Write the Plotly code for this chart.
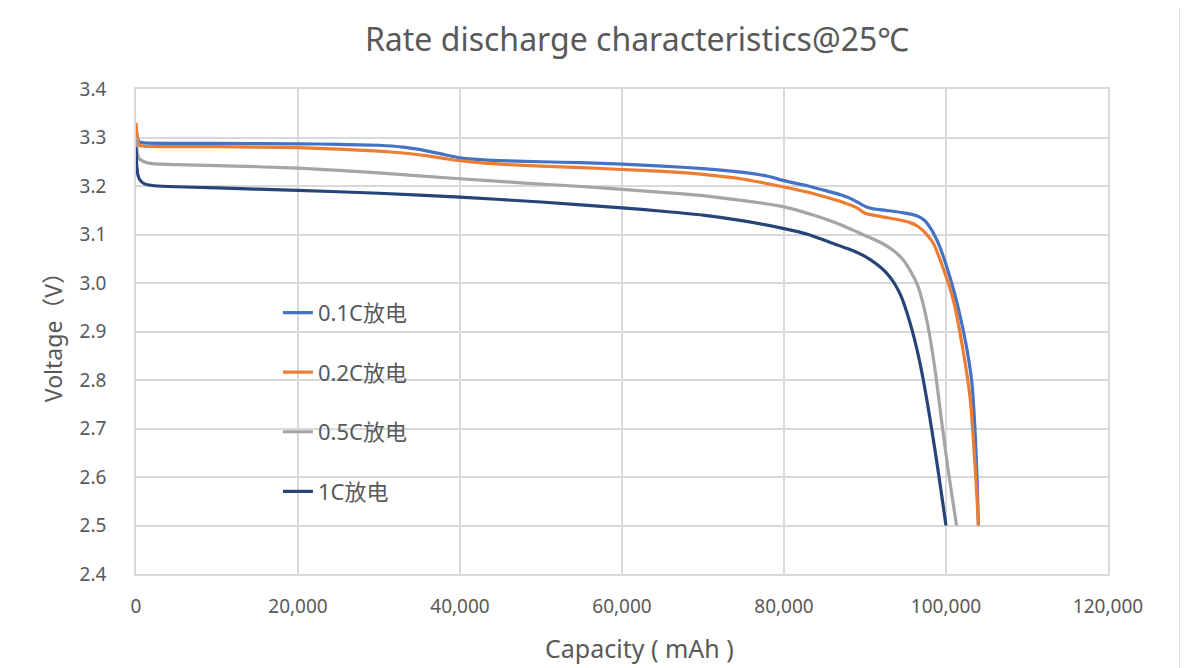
import plotly.graph_objects as go

# ---- data ----
names = ["0.1C放电", "0.2C放电", "0.5C放电", "1C放电"]
colors = ["#4472C4", "#ED7D31", "#A5A5A5", "#264478"]

cap_01 = [0, 150, 400, 1000, 5000, 10000, 20000, 25000, 30000, 33000, 36000, 38000, 40000,
          43000, 46000, 50000, 55000, 60000, 65000, 70000, 75000, 78000, 80000, 83000, 85000,
          87000, 88500, 90000, 91000, 93000, 95000, 96300, 97300, 98200, 99250, 100000, 101000,
          101700, 102600, 103200, 103600, 103850, 104000]
volt_01 = [3.32, 3.30, 3.291, 3.289, 3.288, 3.288, 3.287, 3.286, 3.284, 3.280, 3.272, 3.265, 3.258,
           3.254, 3.252, 3.250, 3.248, 3.245, 3.241, 3.236, 3.228, 3.220, 3.211, 3.200, 3.191,
           3.182, 3.172, 3.158, 3.153, 3.149, 3.144, 3.139, 3.130, 3.110, 3.074, 3.038, 2.982,
           2.935, 2.862, 2.794, 2.690, 2.590, 2.500]

cap_02 = [0, 150, 400, 1000, 5000, 10000, 20000, 25000, 30000, 33000, 36000, 38000, 40000,
          43000, 46000, 50000, 55000, 60000, 65000, 70000, 75000, 80000, 83000, 85000, 87000,
          89000, 90000, 92000, 94000, 95500, 96500, 97300, 98400, 99600, 100900, 102100,
          103000, 103600, 103850, 104000]
volt_02 = [3.33, 3.30, 3.284, 3.282, 3.281, 3.281, 3.279, 3.276, 3.272, 3.268, 3.262, 3.257, 3.252,
           3.247, 3.244, 3.241, 3.238, 3.234, 3.230, 3.224, 3.214, 3.198, 3.187, 3.178, 3.168,
           3.155, 3.144, 3.137, 3.131, 3.125, 3.117, 3.106, 3.083, 3.033, 2.965, 2.862,
           2.760, 2.620, 2.550, 2.500]

cap_05 = [0, 150, 400, 1000, 2000, 5000, 10000, 20000, 30000, 40000, 48000, 55000, 60000,
          65000, 70000, 75000, 80000, 84000, 87000, 90000, 92000, 93500, 94700, 95700, 96500,
          97200, 97900, 98700, 99500, 100300, 101300]
volt_05 = [3.30, 3.27, 3.256, 3.250, 3.246, 3.244, 3.242, 3.237, 3.227, 3.215, 3.206, 3.199, 3.193,
           3.187, 3.180, 3.170, 3.157, 3.138, 3.120, 3.098, 3.083, 3.067, 3.048, 3.022, 2.995,
           2.955, 2.900, 2.815, 2.710, 2.610, 2.500]

cap_1 = [0, 100, 250, 500, 1000, 2000, 4000, 10000, 20000, 30000, 40000, 50000, 60000, 65000,
         70000, 75000, 80000, 83000, 86000, 88000, 90000, 91500, 92700, 93600, 94400, 95100,
         95800, 96500, 97200, 97900, 98600, 99300, 100000]
volt_1 = [3.28, 3.24, 3.222, 3.212, 3.205, 3.201, 3.199, 3.196, 3.191, 3.185, 3.177, 3.167, 3.155,
          3.148, 3.140, 3.128, 3.112, 3.100, 3.082, 3.070, 3.055, 3.038, 3.020, 3.000, 2.975,
          2.943, 2.904, 2.857, 2.800, 2.733, 2.660, 2.582, 2.500]

x_ticks = [0, 20000, 40000, 60000, 80000, 100000, 120000]
y_ticks = [2.4, 2.5, 2.6, 2.7, 2.8, 2.9, 3.0, 3.1, 3.2, 3.3, 3.4]

title_text = "Rate discharge characteristics@25℃"
x_title = "Capacity ( mAh )"
y_title = "Voltage（V）"

series = [(cap_01, volt_01), (cap_02, volt_02), (cap_05, volt_05), (cap_1, volt_1)]

FONT = "Noto Sans, Noto Sans CJK SC, sans-serif"
TXT = "#595959"
GRID = "#D9D9D9"

fig = go.Figure()
for i, ((xs, ys), nm, col) in enumerate(zip(series, names, colors)):
    fig.add_trace(go.Scatter(
        x=xs, y=ys, name=nm, mode="lines",
        line=dict(color=col, width=3.2, shape="spline", smoothing=0.5),
        legendgroup=f"g{i}",
    ))

# outer chart border (Excel-style frame)
fig.add_shape(type="rect", xref="paper", yref="paper",
              x0=-0.1337, x1=1.0741, y0=-0.3, y1=1.1753,
              line=dict(color=GRID, width=1.5), layer="below")

# x-axis title (placed slightly right of centre as in the reference)
fig.add_annotation(text=x_title, xref="paper", yref="paper", x=0.5185, y=-0.153,
                   xanchor="center", yanchor="middle", showarrow=False,
                   font=dict(size=25, color=TXT, family=FONT))

fig.update_layout(
    width=1188, height=668,
    margin=dict(l=128, r=88, t=81, b=102),
    paper_bgcolor="white", plot_bgcolor="white",
    font=dict(family=FONT, color=TXT),
    title=dict(text=title_text, x=0.5295, xanchor="center", y=0.952, yanchor="middle",
               font=dict(size=32, color=TXT, family=FONT)),
    showlegend=True,
    legend=dict(x=0.146, y=0.582, xanchor="left", yanchor="top",
                bgcolor="rgba(0,0,0,0)", font=dict(size=22, color=TXT, family=FONT),
                tracegroupgap=28, itemwidth=30),
    xaxis=dict(range=[0, 120000], tickvals=x_ticks, tickformat=",d",
               showgrid=True, gridcolor=GRID, gridwidth=1.5,
               showline=True, linecolor=GRID, linewidth=1.5, mirror=True,
               zeroline=False, ticks="", ticklabelstandoff=14,
               tickfont=dict(size=19, color=TXT, family=FONT)),
    yaxis=dict(range=[2.4, 3.4], tickvals=y_ticks, tickformat=".1f",
               showgrid=True, gridcolor=GRID, gridwidth=1.5,
               showline=True, linecolor=GRID, linewidth=1.5, mirror=True,
               zeroline=False, ticks="", ticklabelstandoff=24,
               tickfont=dict(size=19, color=TXT, family=FONT),
               title=dict(text=y_title, font=dict(size=23, color=TXT, family=FONT), standoff=11)),
)

fig.write_html("out.html")
